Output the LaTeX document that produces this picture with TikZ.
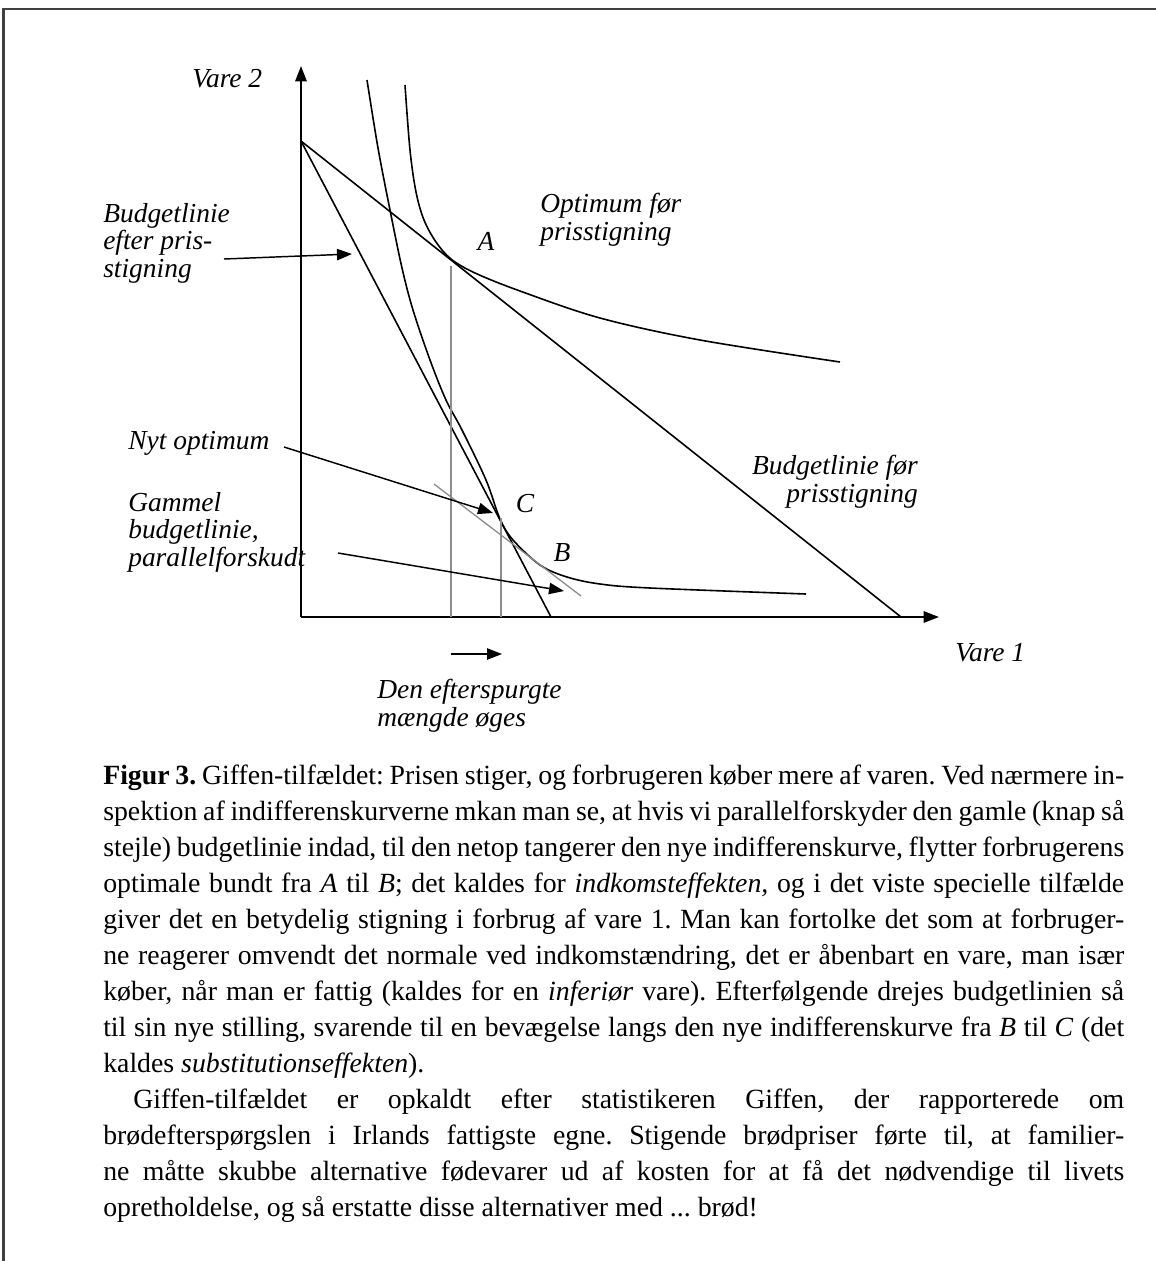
\documentclass[tikz,border=0pt]{standalone}
\usepackage{fontspec}
\setmainfont{Liberation Serif}
\usetikzlibrary{arrows.meta}
\frenchspacing
\newcommand\capln[3]{\node[capt] (#1) at (103,#2) {\makebox[765.75pt][s]{#3}};}
\newcommand\caplast[3]{\node[capt] (#1) at (103,#2) {#3};}
\begin{document}
\begin{tikzpicture}[x=0.75pt,y=-0.75pt,
  lab/.style={font=\fontsize{20.6}{20.3}\selectfont\itshape, inner sep=0pt, align=left, anchor=base west},
  capt/.style={font=\fontsize{20.85}{27}\selectfont\frenchspacing, inner sep=0pt, anchor=base west},
  arr/.style={-{Triangle[length=11.25pt,width=8.5pt]}, line width=1.1pt},
  curve/.style={line width=1.2pt, line join=round},
  axis/.style={line width=1.5pt, -{Triangle[length=11.5pt,width=8.5pt]}},
  guide/.style={line width=1pt, draw=black!45},
  frame/.style={line width=1.6pt, draw=black!75}
]
\useasboundingbox (0,0) rectangle (1156,1261);
% frame
\coordinate (fr1) at (3.5,1261);
\coordinate (fr2) at (3.5,9);
\coordinate (fr3) at (1156,9);
\draw[frame] (fr1) -- (fr2) -- (fr3);

% axes
\coordinate (O) at (301,617);
\coordinate (ytop) at (301,66);
\coordinate (xend) at (939,617);
\draw[axis] (O) -- (ytop);
\draw[axis] (O) -- (xend);

% budget lines
\coordinate (Y0) at (301,141);
\coordinate (X1) at (901,617);
\coordinate (X2) at (551,617);
\draw[curve] (Y0) -- (X1);
\draw[curve] (Y0) -- (X2);

% indifference curves
\draw[curve] plot[smooth, tension=0.55] coordinates {(405,85) (410,150) (416,192) (424,220) (436,242) (451,259) (475,273) (520,291) (600,318) (700,340) (840,362)};
\draw[curve] plot[smooth, tension=0.55] coordinates {(367,80) (378,148) (390,210) (402,268) (413,310) (430,360) (446,400) (462,430) (486,480) (500,519) (513,540) (540,565) (567,577) (600,584) (650,588) (806,594)};

% grey shifted budget line and verticals
\coordinate (g1) at (434,484);
\coordinate (g2) at (581,596);
\draw[guide] (g1) -- (g2);
\coordinate (pA) at (451,266);
\coordinate (pAx) at (451,617);
\coordinate (pC) at (501,518);
\coordinate (pCx) at (501,617);
\draw[guide] (pA) -- (pAx);
\draw[guide] (pC) -- (pCx);

% labels (multi-line: anchor base = last line's baseline)
\node[lab] (v2) at (192,87) {Vare 2};
\node[lab] (v1) at (955,661) {Vare 1};
\node[lab] (be) at (103,277) {Budgetlinie\\efter pris-\\stigning};
\node[lab] (opt) at (540,240) {Optimum før\\prisstigning};
\node[lab, anchor=base] (A) at (486,250) {A};
\node[lab, anchor=base] (C) at (525,512) {C};
\node[lab, anchor=base] (B) at (562,561) {B};
\node[lab, align=right, anchor=base east] (bf) at (918,502) {Budgetlinie før\\prisstigning};
\node[lab] (ny) at (128,449) {Nyt optimum};
\node[lab] (gam) at (128,566) {Gammel\\budgetlinie,\\parallelforskudt};
\node[lab] (den) at (377,726) {Den efterspurgte\\mængde øges};

% label arrows
\coordinate (a1s) at (224,259);
\coordinate (a1e) at (352,254);
\draw[arr] (a1s) -- (a1e);
\coordinate (a2s) at (284,447);
\coordinate (a2e) at (493,513);
\draw[arr] (a2s) -- (a2e);
\coordinate (a3s) at (338,553);
\coordinate (a3e) at (564,591);
\draw[arr] (a3s) -- (a3e);
\coordinate (a4s) at (451,654);
\coordinate (a4e) at (502,654);
\draw[arr] (a4s) -- (a4e);

% caption
\capln{c1}{784}{\textbf{Figur 3.} Giffen-tilfældet: Prisen stiger, og forbrugeren køber mere af varen. Ved nærmere in-}
\capln{c2}{820}{spektion af indifferenskurverne mkan man se, at hvis vi parallelforskyder den gamle (knap så}
\capln{c3}{856}{stejle) budgetlinie indad, til den netop tangerer den nye indifferenskurve, flytter forbrugerens}
\capln{c4}{892}{optimale bundt fra \textit{A} til \textit{B}; det kaldes for \textit{indkomsteffekten,} og i det viste specielle tilfælde}
\capln{c5}{928}{giver det en betydelig stigning i forbrug af vare 1. Man kan fortolke det som at forbruger-}
\capln{c6}{964}{ne reagerer omvendt det normale ved indkomstændring, det er åbenbart en vare, man især}
\capln{c7}{1000}{køber, når man er fattig (kaldes for en \textit{inferiør} vare). Efterfølgende drejes budgetlinien så}
\capln{c8}{1036}{til sin nye stilling, svarende til en bevægelse langs den nye indifferenskurve fra \textit{B} til \textit{C} (det}
\caplast{c9}{1072}{kaldes \textit{substitutionseffekten}).}
\node[capt] (c10) at (133,1108) {\makebox[743.25pt][s]{Giffen-tilfældet er opkaldt efter statistikeren Giffen, der rapporterede om}};
\capln{c11}{1144}{brødefterspørgslen i Irlands fattigste egne. Stigende brødpriser førte til, at familier-}
\capln{c12}{1180}{ne måtte skubbe alternative fødevarer ud af kosten for at få det nødvendige til livets}
\caplast{c13}{1216}{opretholdelse, og så erstatte disse alternativer med ... brød!}
\end{tikzpicture}
\end{document}
